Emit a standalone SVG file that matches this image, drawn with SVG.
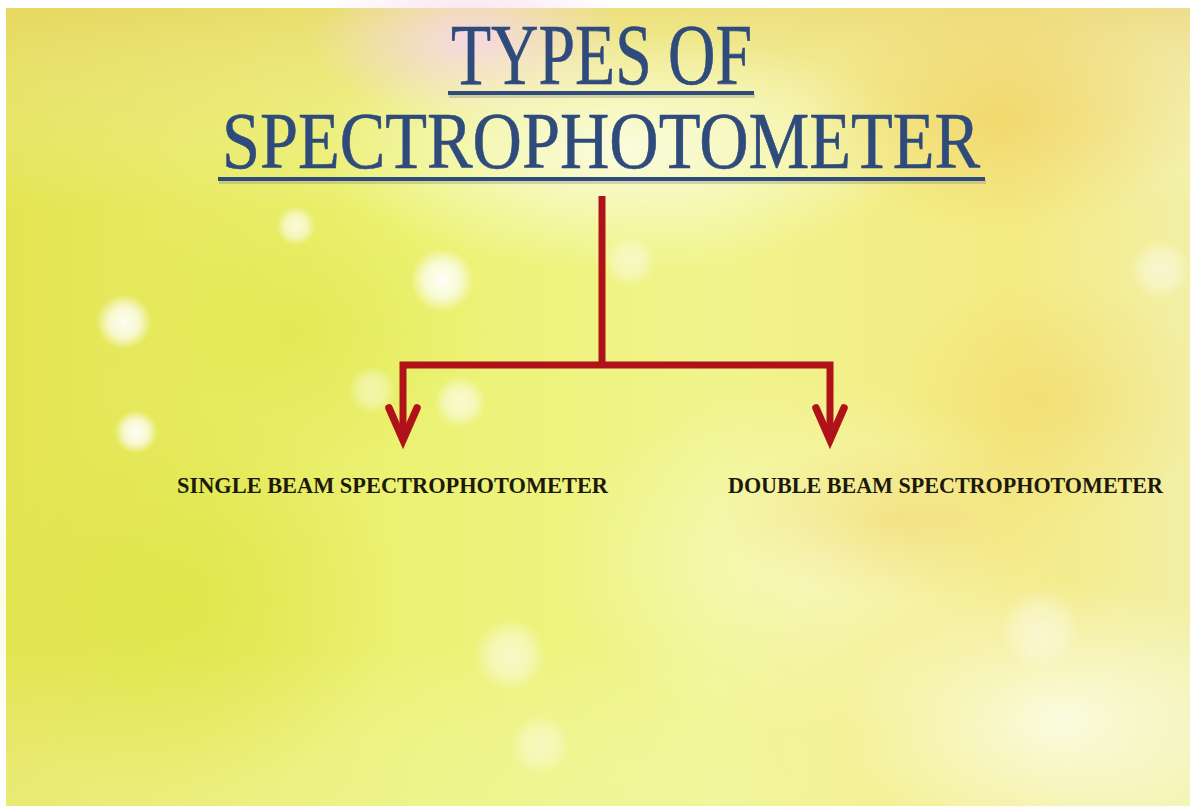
<svg xmlns="http://www.w3.org/2000/svg" width="1190" height="807" viewBox="0 0 1190 807">
  <defs>
    <style>
      .title { font-family: "Liberation Serif", "DejaVu Serif", serif; fill: #2f4b7c; stroke: #2f4b7c; stroke-width: 0.6; }
      .label { font-family: "Liberation Serif", "DejaVu Serif", serif; font-weight: bold; font-size: 23px; fill: #1c1a0c; }
      .uline { stroke: #2f4b7c; stroke-width: 4; }
      .ushadow { stroke: #8a8f7a; stroke-width: 4; opacity: 0.35; }
      .conn { stroke: #b0121a; stroke-width: 7; fill: none; stroke-linejoin: miter; }
      .head { stroke: #b0121a; stroke-width: 7.5; fill: none; stroke-linecap: round; stroke-linejoin: miter; }
    </style>
    <linearGradient id="bgH" x1="0" y1="0" x2="1" y2="0">
      <stop offset="0" stop-color="#e4e452"/>
      <stop offset="0.35" stop-color="#ecf274"/>
      <stop offset="0.6" stop-color="#f1f48c"/>
      <stop offset="0.85" stop-color="#f4ea82"/>
      <stop offset="1" stop-color="#f2f0a6"/>
    </linearGradient>
    <linearGradient id="bgV" x1="0" y1="0" x2="0" y2="1">
      <stop offset="0" stop-color="#e8c870" stop-opacity="0.45"/>
      <stop offset="0.25" stop-color="#ffffff" stop-opacity="0"/>
      <stop offset="0.8" stop-color="#ffffff" stop-opacity="0"/>
      <stop offset="1" stop-color="#f4f8c0" stop-opacity="0.3"/>
    </linearGradient>
    <radialGradient id="pink" cx="0.5" cy="0.5" r="0.5">
      <stop offset="0" stop-color="#f6d8ea" stop-opacity="0.95"/>
      <stop offset="1" stop-color="#f6d8ea" stop-opacity="0"/>
    </radialGradient>
    <radialGradient id="glow" cx="0.5" cy="0.5" r="0.5">
      <stop offset="0" stop-color="#fbfde6" stop-opacity="0.9"/>
      <stop offset="1" stop-color="#fbfde6" stop-opacity="0"/>
    </radialGradient>
    <radialGradient id="bokeh" cx="0.5" cy="0.5" r="0.5">
      <stop offset="0" stop-color="#ffffff" stop-opacity="0.95"/>
      <stop offset="0.55" stop-color="#ffffff" stop-opacity="0.7"/>
      <stop offset="1" stop-color="#ffffff" stop-opacity="0"/>
    </radialGradient>
    <radialGradient id="green" cx="0.5" cy="0.5" r="0.5">
      <stop offset="0" stop-color="#d8e43c" stop-opacity="0.6"/>
      <stop offset="1" stop-color="#d8e43c" stop-opacity="0"/>
    </radialGradient>
    <radialGradient id="orange" cx="0.5" cy="0.5" r="0.5">
      <stop offset="0" stop-color="#f0cc58" stop-opacity="0.6"/>
      <stop offset="1" stop-color="#f0cc58" stop-opacity="0"/>
    </radialGradient>
  </defs>

  <rect x="0" y="0" width="1190" height="807" fill="#ffffff"/>
  <g id="background">
    <rect x="6" y="8" width="1184" height="798" fill="url(#bgH)"/>
    <rect x="6" y="8" width="1184" height="798" fill="url(#bgV)"/>
    <ellipse cx="470" cy="40" rx="160" ry="80" fill="url(#pink)"/>
    <ellipse cx="620" cy="150" rx="300" ry="120" fill="url(#glow)"/>
    <ellipse cx="1060" cy="720" rx="220" ry="140" fill="url(#glow)"/>
    <ellipse cx="820" cy="560" rx="260" ry="180" fill="url(#glow)" opacity="0.6"/>
    <ellipse cx="180" cy="600" rx="220" ry="200" fill="url(#green)"/>
    <ellipse cx="300" cy="330" rx="200" ry="140" fill="url(#green)" opacity="0.7"/>
    <ellipse cx="1000" cy="120" rx="200" ry="110" fill="url(#orange)"/>
    <ellipse cx="1050" cy="400" rx="160" ry="120" fill="url(#orange)" opacity="0.6"/>
    <ellipse cx="900" cy="520" rx="180" ry="80" fill="url(#orange)" opacity="0.7"/>
    <circle cx="442" cy="280" r="32" fill="url(#bokeh)"/>
    <circle cx="124" cy="322" r="28" fill="url(#bokeh)"/>
    <circle cx="136" cy="432" r="22" fill="url(#bokeh)"/>
    <circle cx="296" cy="226" r="20" fill="url(#bokeh)" opacity="0.8"/>
    <circle cx="460" cy="402" r="26" fill="url(#bokeh)" opacity="0.7"/>
    <circle cx="630" cy="262" r="26" fill="url(#bokeh)" opacity="0.5"/>
    <circle cx="510" cy="655" r="36" fill="url(#bokeh)" opacity="0.6"/>
    <circle cx="540" cy="745" r="30" fill="url(#bokeh)" opacity="0.45"/>
    <circle cx="1160" cy="270" r="30" fill="url(#bokeh)" opacity="0.5"/>
    <circle cx="1040" cy="630" r="40" fill="url(#bokeh)" opacity="0.45"/>
    <circle cx="372" cy="390" r="24" fill="url(#bokeh)" opacity="0.5"/>
  </g>

  <g id="title">
    <text class="title" x="451" y="84" font-size="86" textLength="301" lengthAdjust="spacingAndGlyphs">TYPES OF</text>
    <line class="ushadow" x1="449" y1="96" x2="755" y2="96"/>
    <line class="uline" x1="448" y1="93" x2="754" y2="93"/>
    <text class="title" x="222" y="168" font-size="80" textLength="758" lengthAdjust="spacingAndGlyphs">SPECTROPHOTOMETER</text>
    <line class="ushadow" x1="219" y1="182" x2="986" y2="182"/>
    <line class="uline" x1="218" y1="179" x2="985" y2="179"/>
  </g>

  <g id="connectors">
    <path class="conn" d="M602,196 V365"/>
    <path class="conn" d="M403,438 V365 H830 V438"/>
    <path class="head" d="M389,408 L403,440 L417,408"/>
    <path class="head" d="M816,408 L830,440 L844,408"/>
  </g>

  <g id="single">
    <text class="label" x="177" y="493" textLength="431" lengthAdjust="spacingAndGlyphs">SINGLE BEAM SPECTROPHOTOMETER</text>
  </g>

  <g id="double">
    <text class="label" x="728" y="493" textLength="435" lengthAdjust="spacingAndGlyphs">DOUBLE BEAM SPECTROPHOTOMETER</text>
  </g>
</svg>
